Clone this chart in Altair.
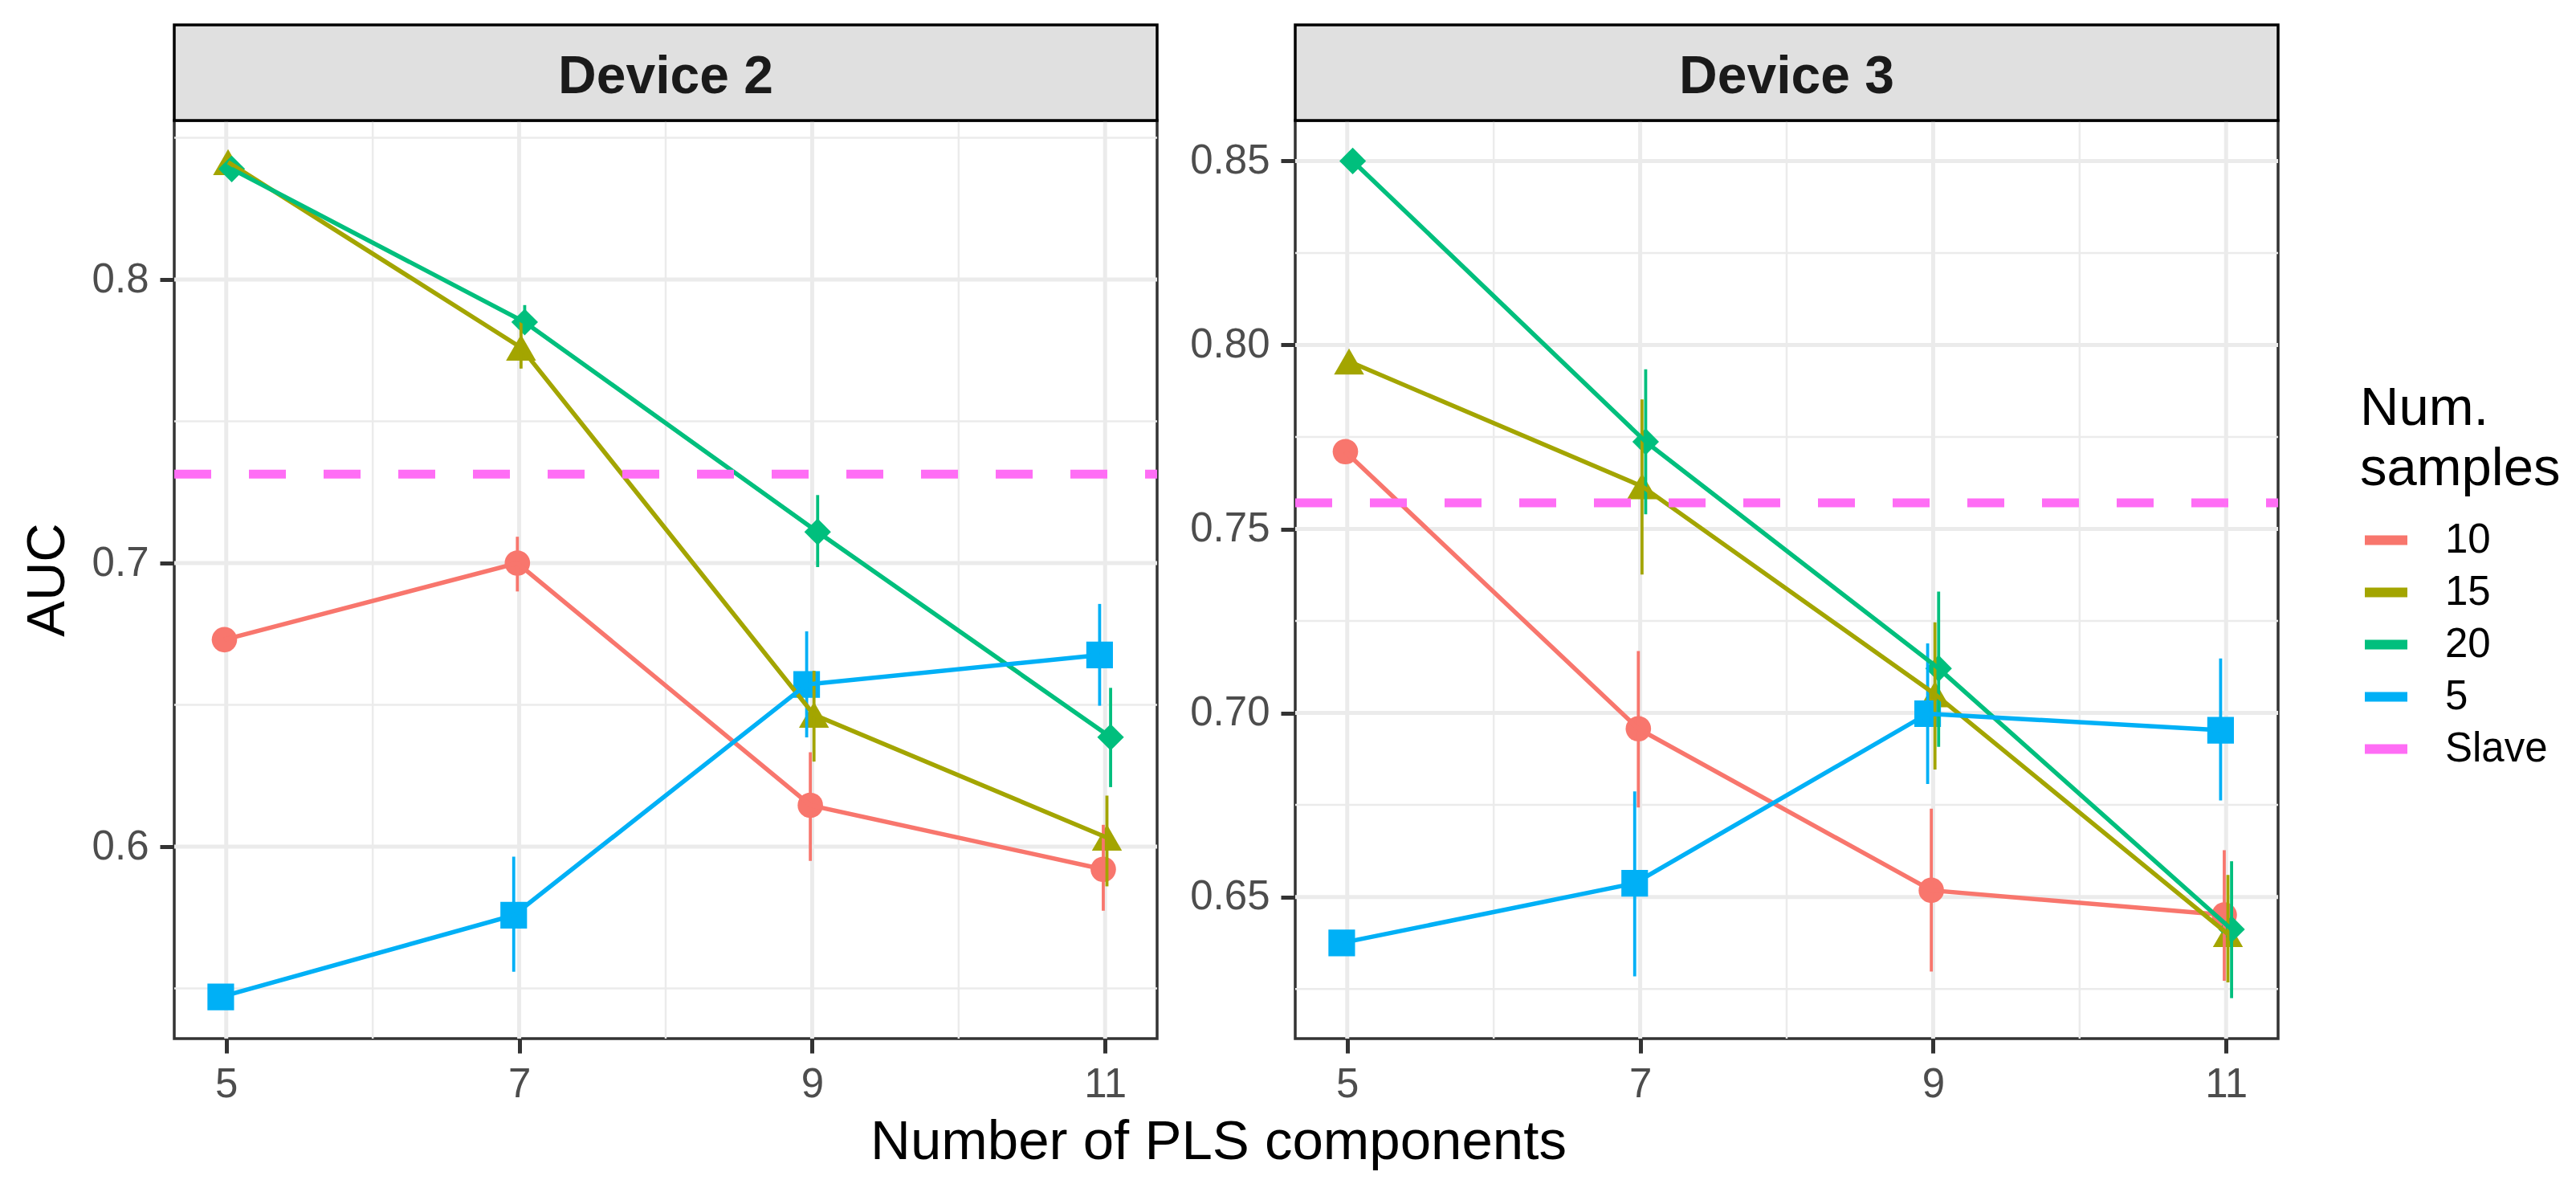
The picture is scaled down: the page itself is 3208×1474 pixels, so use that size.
import altair as alt
import pandas as pd

FONT = "Liberation Sans"

# number of PLS components (x axis)
components = [5, 7, 9, 11]
groups = ["10", "15", "20", "5"]

# Device 2: mean AUC and error bar ends per number of samples
dev2_auc = {
    "10": [0.673, 0.700, 0.6146, 0.592],
    "15": [0.8414, 0.776, 0.6465, 0.6032],
    "20": [0.839, 0.785, 0.711, 0.6386],
    "5": [0.547, 0.5758, 0.6572, 0.6676],
}
dev2_lo = {
    "10": [None, 0.690, 0.595, 0.5774],
    "15": [None, 0.7686, 0.630, 0.586],
    "20": [None, 0.782, 0.6986, 0.621],
    "5": [None, 0.5559, 0.6385, 0.6497],
}
dev2_hi = {
    "10": [None, 0.7093, 0.6333, 0.6077],
    "15": [None, 0.7854, 0.662, 0.618],
    "20": [None, 0.791, 0.724, 0.656],
    "5": [None, 0.5965, 0.6759, 0.6856],
}
dev2_slave = 0.7314

# Device 3
dev3_auc = {
    "10": [0.771, 0.6957, 0.6518, 0.6451],
    "15": [0.7955, 0.7616, 0.7051, 0.6399],
    "20": [0.850, 0.7737, 0.7121, 0.6412],
    "5": [0.6375, 0.6537, 0.6998, 0.6953],
}
dev3_lo = {
    "10": [None, 0.6743, 0.6297, 0.6272],
    "15": [None, 0.7376, 0.6846, 0.6268],
    "20": [None, 0.754, 0.6908, 0.6225],
    "5": [None, 0.6284, 0.6807, 0.6762],
}
dev3_hi = {
    "10": [None, 0.7168, 0.674, 0.6627],
    "15": [None, 0.7852, 0.7246, 0.656],
    "20": [None, 0.7934, 0.733, 0.6597],
    "5": [None, 0.6787, 0.7189, 0.7148],
}
dev3_slave = 0.7571

legend_domain = ["10", "15", "20", "5", "Slave"]
legend_colors = ["#F8766D", "#A3A500", "#00BF7D", "#00B0F6", "#FF6DF5"]
point_shapes = {"10": "circle", "15": "triangle-up", "20": "diamond", "5": "square"}
point_sizes = {"10": 1000, "15": 1400, "20": 1100, "5": 1100}

# position_dodge(width = 0.1)
dodge = {"5": -0.0375, "10": -0.0125, "15": 0.0125, "20": 0.0375}

W, H, S = 1224, 1143, 119
XDOM = [4.645, 11.355]


def long_table(auc, lo, hi):
    rows = []
    for g in groups:
        for i, c in enumerate(components):
            rows.append({"n": g, "comp": c, "xpos": c + dodge[g],
                         "auc": auc[g][i], "lo": lo[g][i], "hi": hi[g][i]})
    return pd.DataFrame(rows)


color = alt.Color(
    "n:N",
    scale=alt.Scale(domain=legend_domain, range=legend_colors),
    legend=alt.Legend(
        title=["Num.", "samples"], orient="none", legendX=2722, legendY=326,
        symbolType="stroke", symbolSize=2809, symbolStrokeWidth=12,
        labelFont=FONT, labelFontSize=51, labelColor="black", labelOffset=41,
        labelLimit=400, titleLimit=600,
        titleFont=FONT, titleFontSize=67, titleColor="black",
        titleFontWeight="normal", titleLineHeight=75, titlePadding=22,
        rowPadding=7, padding=0,
    ),
)


def panel(name, auc, lo, hi, slave, ydom, yticks, yminor, fmt, first):
    df = long_table(auc, lo, hi)
    xs = alt.Scale(domain=XDOM, nice=False, zero=False)
    ys = alt.Scale(domain=ydom, nice=False, zero=False)
    if first:
        xaxis = alt.Axis(values=components, format="d", labelFlush=False,
                         title="Number of PLS components", titleX=1300, titleY=149,
                         titleFontSize=69, titleAlign="center", titleBaseline="alphabetic")
        yaxis = alt.Axis(values=yticks, format=fmt, title="AUC", titleX=-138,
                         titleY=H / 2, titleAngle=270, titleBaseline="alphabetic",
                         titleAlign="center")
    else:
        xaxis = alt.Axis(values=components, format="d", labelFlush=False, title=None)
        yaxis = alt.Axis(values=yticks, format=fmt, title=None)

    def X(f):
        return alt.X(f, scale=xs, axis=xaxis)

    def Y(f):
        return alt.Y(f, scale=ys, axis=yaxis)

    gy = alt.Chart(pd.DataFrame({"v": yticks})).mark_rule(
        color="#EBEBEB", strokeWidth=5).encode(y=Y("v:Q"), x=alt.value(0), x2=alt.value(W))
    gym = alt.Chart(pd.DataFrame({"v": yminor})).mark_rule(
        color="#EBEBEB", strokeWidth=2.5).encode(y=Y("v:Q"), x=alt.value(0), x2=alt.value(W))
    gx = alt.Chart(pd.DataFrame({"v": components})).mark_rule(
        color="#EBEBEB", strokeWidth=5).encode(x=X("v:Q"), y=alt.value(0), y2=alt.value(H))
    gxm = alt.Chart(pd.DataFrame({"v": [6, 8, 10]})).mark_rule(
        color="#EBEBEB", strokeWidth=2.5).encode(x=X("v:Q"), y=alt.value(0), y2=alt.value(H))

    base = alt.Chart(df)
    points = [
        base.transform_filter(alt.datum.n == g).mark_point(
            filled=True, opacity=1, shape=point_shapes[g], size=point_sizes[g]
        ).encode(x=X("xpos:Q"), y=Y("auc:Q"), color=color)
        for g in groups
    ]
    bars = base.transform_filter("isValid(datum.lo)").mark_rule(strokeWidth=3.8).encode(
        x=X("xpos:Q"), y=Y("lo:Q"), y2="hi:Q", color=color)
    lines = base.mark_line(strokeWidth=5.5).encode(
        x=X("xpos:Q"), y=Y("auc:Q"), color=color, order="comp:Q")
    hline = alt.Chart(pd.DataFrame({"n": ["Slave"], "auc": [slave]})).mark_rule(
        strokeWidth=11, strokeDash=[46, 47], strokeCap="butt").encode(
        y=Y("auc:Q"), x=alt.value(0), x2=alt.value(W), color=color)

    # facet strip drawn above the plot area
    lab = pd.DataFrame({"label": [name]})
    strip_box = alt.Chart(lab).mark_rect(
        fill="#E0E0E0", stroke="black", strokeWidth=3.5).encode(
        x=alt.value(0), x2=alt.value(W), y=alt.value(-S), y2=alt.value(0))
    strip_text = alt.Chart(lab).mark_text(
        font=FONT, fontSize=66, fontWeight="bold", color="#1A1A1A",
        baseline="alphabetic", align="center").encode(
        text="label:N", x=alt.value(W / 2), y=alt.value(85 - S))

    return alt.layer(gym, gy, gxm, gx, *points, bars, lines, hline,
                     strip_box, strip_text).properties(width=W, height=H)


left = panel("Device 2", dev2_auc, dev2_lo, dev2_hi, dev2_slave,
             [0.5323, 0.8561], [0.6, 0.7, 0.8], [0.55, 0.65, 0.75, 0.85], ".1f", True)
right = panel("Device 3", dev3_auc, dev3_lo, dev3_hi, dev3_slave,
              [0.6115, 0.8610], [0.65, 0.70, 0.75, 0.80, 0.85],
              [0.625, 0.675, 0.725, 0.775, 0.825], ".2f", False)

chart = alt.hconcat(left, right, spacing=172, bounds="flush").resolve_scale(
    y="independent", color="shared"
).properties(
    padding={"left": 15, "top": 19, "right": 0, "bottom": 0}
).configure(font=FONT).configure_view(
    stroke="#333333", strokeWidth=3.5
).configure_axis(
    grid=False, domain=False, labelFont=FONT, labelFontSize=51, labelColor="#4D4D4D",
    labelPadding=14, tickColor="#333333", tickWidth=5, tickSize=18,
    titleFont=FONT, titleFontSize=67, titleColor="black", titleFontWeight="normal",
)

chart.save("out.html", embed_options={"renderer": "svg", "actions": False})
